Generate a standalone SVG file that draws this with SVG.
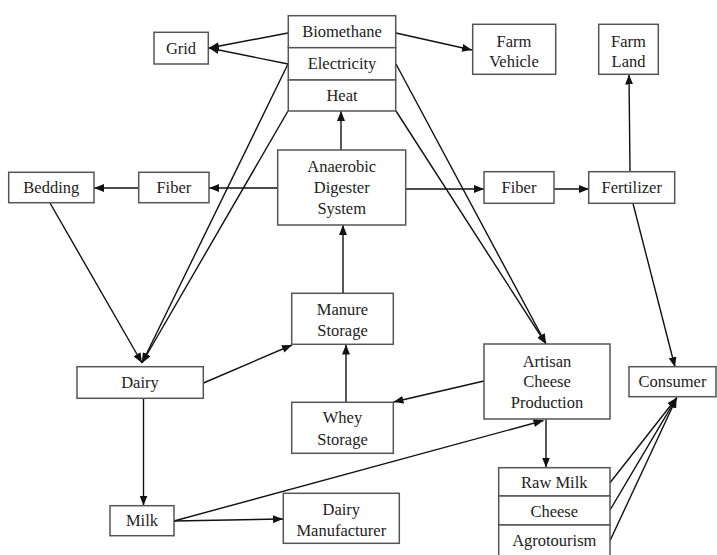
<svg xmlns="http://www.w3.org/2000/svg" width="717" height="555" viewBox="0 0 717 555">
<style>
.b{fill:#fff;stroke:#555;stroke-width:1.5}
text{font-family:'Liberation Serif','DejaVu Serif',serif;font-size:16.5px;fill:#222;text-anchor:middle}
.c line{stroke:#111;stroke-width:1.4}
.a{marker-end:url(#ah)}
</style>
<defs>
<marker id="ah" markerUnits="userSpaceOnUse" markerWidth="10" markerHeight="8" refX="10" refY="4" orient="auto">
<path d="M0,0 L10,4 L0,8 z" fill="#111"/>
</marker>
</defs>
<rect width="717" height="555" fill="#fff"/>
<g id="connectors" class="c">
<line class="a" x1="288" y1="33" x2="209" y2="48"/>
<line class="a" x1="288" y1="64" x2="209" y2="48"/>
<line class="a" x1="396" y1="33" x2="472" y2="50"/>
<line class="a" x1="288" y1="64" x2="142" y2="363"/>
<line class="a" x1="288" y1="111" x2="142" y2="363"/>
<line class="a" x1="50" y1="203" x2="142" y2="363"/>
<line class="a" x1="396" y1="64" x2="546" y2="344"/>
<line class="a" x1="396" y1="111" x2="546" y2="344"/>
<line class="a" x1="341" y1="150" x2="341" y2="111"/>
<line class="a" x1="278" y1="188" x2="209" y2="188"/>
<line class="a" x1="139" y1="188" x2="94" y2="188"/>
<line class="a" x1="406" y1="189" x2="484" y2="189"/>
<line class="a" x1="554" y1="189" x2="589" y2="189"/>
<line class="a" x1="630" y1="172" x2="629" y2="74.5"/>
<line class="a" x1="633" y1="203.5" x2="675" y2="367"/>
<line class="a" x1="343" y1="293" x2="343" y2="225"/>
<line class="a" x1="203.5" y1="383" x2="292" y2="345"/>
<line class="a" x1="346" y1="402" x2="346" y2="344.5"/>
<line class="a" x1="484" y1="381" x2="393.5" y2="402"/>
<line class="a" x1="143.5" y1="398.5" x2="143.5" y2="505.5"/>
<line class="a" x1="174" y1="521" x2="283" y2="519"/>
<line class="a" x1="174" y1="521" x2="543.5" y2="420.5"/>
<line class="a" x1="546" y1="419" x2="546" y2="467.5"/>
<line class="a" x1="610" y1="482.7" x2="676.7" y2="397.7"/>
<line class="a" x1="610" y1="510" x2="676.7" y2="397.7"/>
<line class="a" x1="610" y1="540.7" x2="676.7" y2="397.7"/>
</g>
<g id="grid"><rect class="b" x="154" y="32.3" width="54.3" height="31.7"/><text x="181" y="53.5">Grid</text></g>
<g id="energy">
<rect class="b" x="288.3" y="15.7" width="107.4" height="32"/><text x="342" y="37">Biomethane</text>
<rect class="b" x="288.3" y="47.7" width="107.4" height="32.3"/><text x="342" y="69">Electricity</text>
<rect class="b" x="288.3" y="80" width="107.4" height="31"/><text x="342" y="101">Heat</text>
</g>
<g id="farmvehicle"><rect class="b" x="472.7" y="24.3" width="83" height="50"/><text x="514" y="47">Farm</text><text x="514" y="67">Vehicle</text></g>
<g id="farmland"><rect class="b" x="598.7" y="24.3" width="59.6" height="50"/><text x="628.5" y="47">Farm</text><text x="628.5" y="67">Land</text></g>
<g id="bedding"><rect class="b" x="8.7" y="172.3" width="85.3" height="30.4"/><text x="51.3" y="193">Bedding</text></g>
<g id="fiber-left"><rect class="b" x="138.7" y="172.3" width="70.3" height="30.4"/><text x="173.8" y="193">Fiber</text></g>
<g id="ads"><rect class="b" x="277.7" y="150" width="128" height="75"/><text x="341.7" y="172">Anaerobic</text><text x="341.7" y="193">Digester</text><text x="341.7" y="214">System</text></g>
<g id="fiber-right"><rect class="b" x="484" y="171.7" width="70" height="31.6"/><text x="519" y="193">Fiber</text></g>
<g id="fertilizer"><rect class="b" x="588.7" y="171.7" width="86" height="31.6"/><text x="631.7" y="193">Fertilizer</text></g>
<g id="manure"><rect class="b" x="291.7" y="293.3" width="101.6" height="51"/><text x="342.5" y="315">Manure</text><text x="342.5" y="335.5">Storage</text></g>
<g id="dairy"><rect class="b" x="77" y="366.7" width="126.3" height="31.6"/><text x="140" y="388">Dairy</text></g>
<g id="whey"><rect class="b" x="291.7" y="402.3" width="101.6" height="51"/><text x="342.5" y="423">Whey</text><text x="342.5" y="444.5">Storage</text></g>
<g id="artisan"><rect class="b" x="484" y="344" width="126" height="75"/><text x="547" y="366.5">Artisan</text><text x="547" y="387">Cheese</text><text x="547" y="408">Production</text></g>
<g id="consumer"><rect class="b" x="629" y="366.7" width="87" height="30"/><text x="672.5" y="387">Consumer</text></g>
<g id="products">
<rect class="b" x="498.7" y="467.7" width="111.3" height="28.3"/><text x="554.3" y="488">Raw Milk</text>
<rect class="b" x="498.7" y="496" width="111.3" height="29"/><text x="554.3" y="517">Cheese</text>
<rect class="b" x="498.7" y="525" width="111.3" height="35"/><text x="554.3" y="546">Agrotourism</text>
</g>
<g id="milk"><rect class="b" x="110" y="505.7" width="64" height="30"/><text x="142" y="526">Milk</text></g>
<g id="dairymanufacturer"><rect class="b" x="283.3" y="493.3" width="116" height="50"/><text x="341.3" y="515">Dairy</text><text x="341.3" y="535.5">Manufacturer</text></g>
</svg>
